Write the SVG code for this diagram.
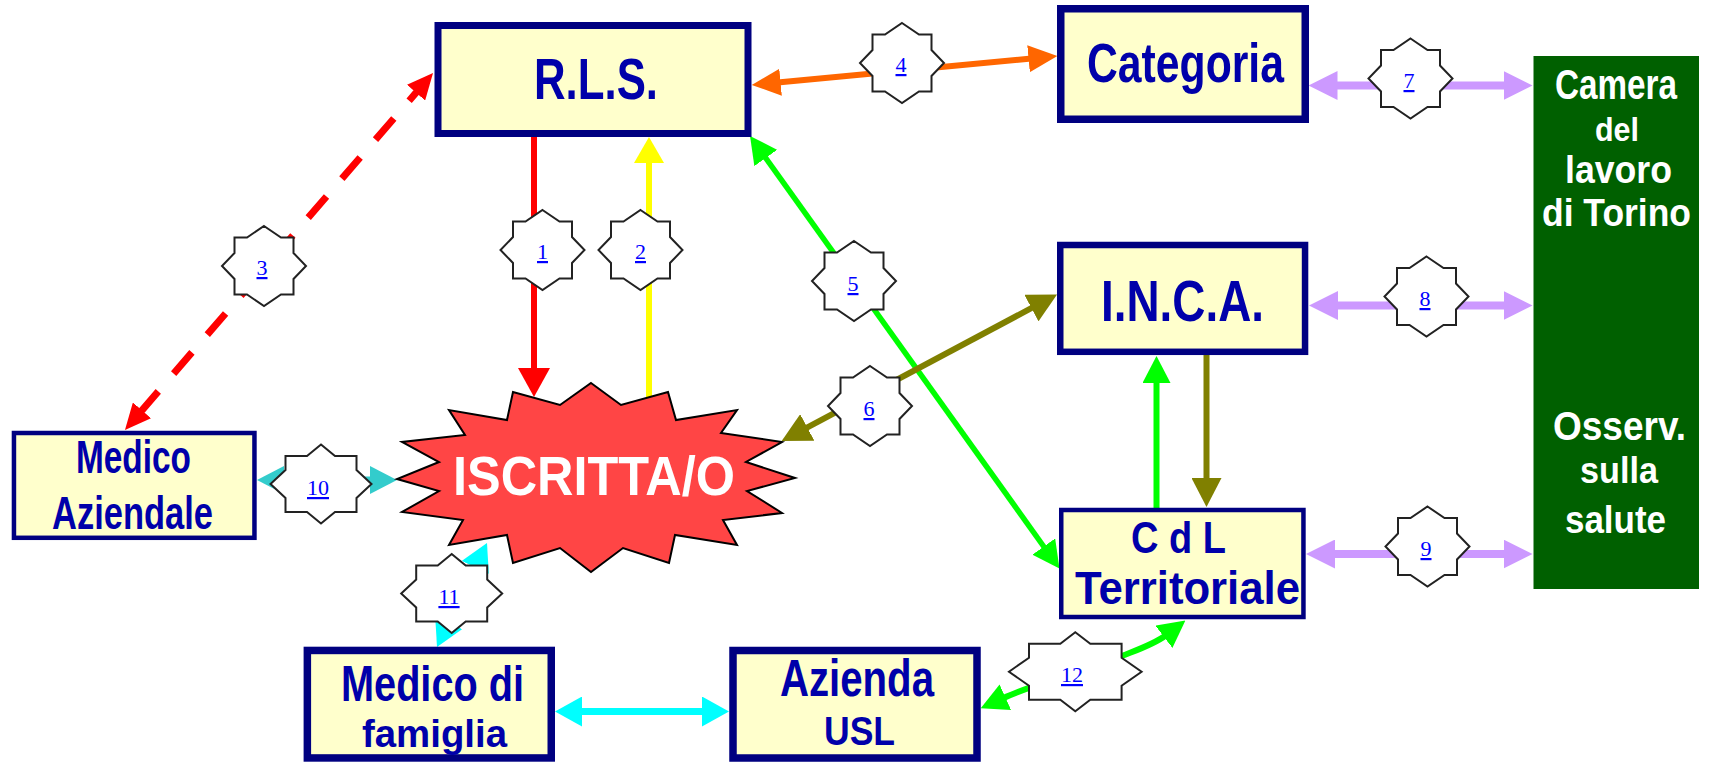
<svg xmlns="http://www.w3.org/2000/svg" xmlns:xlink="http://www.w3.org/1999/xlink" width="1709" height="764" viewBox="0 0 1709 764">
<style>
.box{fill:#FFFFCC;stroke:#000080}
.t{font-family:"Liberation Sans",Arial,sans-serif;font-weight:bold;fill:#0000AA}
.w{fill:#FFFFFF}
.ln{fill:none}
.badge{fill:#FFFFFF;stroke:#222222;stroke-width:2;stroke-linejoin:miter}
.num{font-family:"Liberation Serif","Times New Roman",serif;font-size:22px;fill:#0000FF;text-decoration:underline;text-anchor:middle}
</style>
<defs>
<marker id="mRed" markerUnits="userSpaceOnUse" viewBox="0 0 29 32" markerWidth="29" markerHeight="32" refX="3" refY="16" orient="auto-start-reverse"><path d="M0,0 L29,16 L0,32 Z" fill="#FF0000"/></marker>
<marker id="mYel" markerUnits="userSpaceOnUse" viewBox="0 0 26 30" markerWidth="26" markerHeight="30" refX="3" refY="15" orient="auto-start-reverse"><path d="M0,0 L26,15 L0,30 Z" fill="#FFFF00"/></marker>
<marker id="mRedD" markerUnits="userSpaceOnUse" viewBox="0 0 26 24" markerWidth="26" markerHeight="24" refX="3" refY="12" orient="auto-start-reverse"><path d="M0,0 L26,12 L0,24 Z" fill="#FF0000"/></marker>
<marker id="mOr" markerUnits="userSpaceOnUse" viewBox="0 0 29 27" markerWidth="29" markerHeight="27" refX="3" refY="13.5" orient="auto-start-reverse"><path d="M0,0 L29,13.5 L0,27 Z" fill="#FF6600"/></marker>
<marker id="mGr" markerUnits="userSpaceOnUse" viewBox="0 0 27 28" markerWidth="27" markerHeight="28" refX="3" refY="14" orient="auto-start-reverse"><path d="M0,0 L27,14 L0,28 Z" fill="#00FF00"/></marker>
<marker id="mOl" markerUnits="userSpaceOnUse" viewBox="0 0 29 30" markerWidth="29" markerHeight="30" refX="3" refY="15" orient="auto-start-reverse"><path d="M0,0 L29,15 L0,30 Z" fill="#808000"/></marker>
<marker id="mLil" markerUnits="userSpaceOnUse" viewBox="0 0 29 29" markerWidth="29" markerHeight="29" refX="3" refY="14.5" orient="auto-start-reverse"><path d="M0,0 L29,14.5 L0,29 Z" fill="#CC99FF"/></marker>
<marker id="mTeal" markerUnits="userSpaceOnUse" viewBox="0 0 27 28" markerWidth="27" markerHeight="28" refX="3" refY="14" orient="auto-start-reverse"><path d="M0,0 L27,14 L0,28 Z" fill="#33CCCC"/></marker>
<marker id="mCy" markerUnits="userSpaceOnUse" viewBox="0 0 27 30" markerWidth="27" markerHeight="30" refX="3" refY="15" orient="auto-start-reverse"><path d="M0,0 L27,15 L0,30 Z" fill="#00FFFF"/></marker>
<path id="starS" d="M0,-40 L17,-28.5 L29.5,-28.5 L29.5,-13 L42,0 L29.5,13 L29.5,28.5 L17,28.5 L0,40 L-17,28.5 L-29.5,28.5 L-29.5,13 L-42,0 L-29.5,-13 L-29.5,-28.5 L-17,-28.5 Z"/>
<path id="starW" d="M0,-39.5 L14,-28 L35.5,-28 L35.5,-14 L50.5,0 L35.5,14 L35.5,28 L14,28 L0,39.5 L-14,28 L-35.5,28 L-35.5,14 L-50.5,0 L-35.5,-14 L-35.5,-28 L-14,-28 Z"/>
<path id="starXW" d="M0,-39.5 L15,-28 L46.3,-28 L46.3,-14 L66.3,0 L46.3,14 L46.3,28 L15,28 L0,39.5 L-15,28 L-46.3,28 L-46.3,14 L-66.3,0 L-46.3,-14 L-46.3,-28 L-15,-28 Z"/>
</defs>
<rect width="1709" height="764" fill="#FFFFFF"/>
<g id="connectors" class="ln">
<path id="c1" d="M534,137 V371" stroke="#FF0000" stroke-width="6" marker-end="url(#mRed)"/>
<path id="c2" d="M649,402 V160" stroke="#FFFF00" stroke-width="6" marker-end="url(#mYel)"/>
<path id="c3" d="M140,412.6 L418,90.4" stroke="#FF0000" stroke-width="7" stroke-dasharray="28 23.5" marker-start="url(#mRedD)" marker-end="url(#mRedD)"/>
<path id="c4" d="M777.6,82.5 L1031.5,58.5" stroke="#FF6600" stroke-width="6" marker-start="url(#mOr)" marker-end="url(#mOr)"/>
<path id="c5" d="M764,155.5 L1045.5,549" stroke="#00FF00" stroke-width="5.5" marker-start="url(#mGr)" marker-end="url(#mGr)"/>
<path id="c6" d="M804.6,428.8 L1034.1,306.7" stroke="#808000" stroke-width="6" marker-start="url(#mOl)" marker-end="url(#mOl)"/>
<path id="c7" d="M1334.5,85.5 H1506.5" stroke="#CC99FF" stroke-width="8" marker-start="url(#mLil)" marker-end="url(#mLil)"/>
<path id="c8" d="M1335,305.5 H1506.5" stroke="#CC99FF" stroke-width="8" marker-start="url(#mLil)" marker-end="url(#mLil)"/>
<path id="c9" d="M1332,554 H1506.5" stroke="#CC99FF" stroke-width="8" marker-start="url(#mLil)" marker-end="url(#mLil)"/>
<path id="c10" d="M281,480 H373" stroke="#33CCCC" stroke-width="7" marker-start="url(#mTeal)" marker-end="url(#mTeal)"/>
<path id="c11" d="M447.4,625.4 L476.6,564.6" stroke="#00FFFF" stroke-width="4" marker-start="url(#mCy)" marker-end="url(#mCy)"/>
<path id="c12" d="M1002.6,698.4 C1050,677 1140,655 1166.3,635" stroke="#00FF00" stroke-width="6" marker-start="url(#mGr)" marker-end="url(#mGr)"/>
<path id="c13" d="M579,711.5 H705" stroke="#00FFFF" stroke-width="7" marker-start="url(#mCy)" marker-end="url(#mCy)"/>
<path id="c14" d="M1156.5,508 V380" stroke="#00FF00" stroke-width="6" marker-end="url(#mGr)"/>
<path id="c15" d="M1206.5,352 V481" stroke="#808000" stroke-width="6" marker-end="url(#mOl)"/>
</g>
<g id="node-rls">
<rect class="box" x="438" y="25.5" width="310" height="108" stroke-width="7"/>
<text class="t" x="534" y="99" font-size="57" textLength="124" lengthAdjust="spacingAndGlyphs">R.L.S.</text>
</g>
<g id="node-categoria">
<rect class="box" x="1060.75" y="8.75" width="244.5" height="110.5" stroke-width="7.5"/>
<text class="t" x="1087" y="82" font-size="56" textLength="197" lengthAdjust="spacingAndGlyphs">Categoria</text>
</g>
<g id="node-inca">
<rect class="box" x="1060.25" y="245" width="244.8" height="106.8" stroke-width="6.5"/>
<text class="t" x="1101" y="321" font-size="58" textLength="163" lengthAdjust="spacingAndGlyphs">I.N.C.A.</text>
</g>
<g id="node-cdl">
<rect class="box" x="1061.25" y="510" width="242.2" height="107" stroke-width="4.5"/>
<text class="t" x="1131" y="553" font-size="44" textLength="95" lengthAdjust="spacingAndGlyphs">C d L</text>
<text class="t" x="1075" y="604" font-size="46" textLength="225" lengthAdjust="spacingAndGlyphs">Territoriale</text>
</g>
<g id="node-medico-aziendale">
<rect class="box" x="13.95" y="433" width="240.5" height="104.8" stroke-width="4.5"/>
<text class="t" x="76" y="473" font-size="46" textLength="115" lengthAdjust="spacingAndGlyphs">Medico</text>
<text class="t" x="52" y="529" font-size="47" textLength="161" lengthAdjust="spacingAndGlyphs">Aziendale</text>
</g>
<g id="node-medico-famiglia">
<rect class="box" x="307.35" y="650.45" width="243.9" height="107.5" stroke-width="7.5"/>
<text class="t" x="341" y="701" font-size="50" textLength="183" lengthAdjust="spacingAndGlyphs">Medico di</text>
<text class="t" x="362" y="747" font-size="39" textLength="145" lengthAdjust="spacingAndGlyphs">famiglia</text>
</g>
<g id="node-azienda-usl">
<rect class="box" x="733" y="650.5" width="244" height="107.5" stroke-width="7.5"/>
<text class="t" x="780" y="696" font-size="52" textLength="154" lengthAdjust="spacingAndGlyphs">Azienda</text>
<text class="t" x="824" y="745" font-size="41" textLength="71" lengthAdjust="spacingAndGlyphs">USL</text>
</g>
<g id="node-camera-lavoro">
<rect x="1533.5" y="56" width="165.5" height="533" fill="#006000"/>
<text class="t w" x="1555" y="99" font-size="42" textLength="122" lengthAdjust="spacingAndGlyphs">Camera</text>
<text class="t w" x="1595" y="141" font-size="34" textLength="44" lengthAdjust="spacingAndGlyphs">del</text>
<text class="t w" x="1565" y="183" font-size="38" textLength="107" lengthAdjust="spacingAndGlyphs">lavoro</text>
<text class="t w" x="1542" y="226" font-size="38" textLength="149" lengthAdjust="spacingAndGlyphs">di Torino</text>
<text class="t w" x="1553" y="440" font-size="40" textLength="133" lengthAdjust="spacingAndGlyphs">Osserv.</text>
<text class="t w" x="1580" y="483" font-size="36" textLength="78" lengthAdjust="spacingAndGlyphs">sulla</text>
<text class="t w" x="1565" y="533" font-size="38" textLength="101" lengthAdjust="spacingAndGlyphs">salute</text>
</g>
<g id="node-iscritta">
<polygon points="591,383 621,405 668,392 676,420 737,410 721,433 782,442 746,462 795,478 747,491 782,513 723,520 737,545 675,535 669,563 623,548 591,572 560,548 513,563 507,535 449,545 463,520 402,512 439,491 397,479 439,462 402,442 465,435 449,410 507,420 513,392 560,405" fill="#FF4545" stroke="#000000" stroke-width="2" stroke-linejoin="miter"/>
<text class="t w" x="453" y="495" font-size="56" textLength="282" lengthAdjust="spacingAndGlyphs">ISCRITTA/O</text>
</g>
<g id="connector-labels">
<g id="badge-1"><use href="#starS" class="badge" transform="translate(542.5,250)"/><text class="num" x="542.5" y="259">1</text></g>
<g id="badge-2"><use href="#starS" class="badge" transform="translate(640.5,250)"/><text class="num" x="640.5" y="259">2</text></g>
<g id="badge-3"><use href="#starS" class="badge" transform="translate(264,266)"/><text class="num" x="262" y="275">3</text></g>
<g id="badge-4"><use href="#starS" class="badge" transform="translate(902,63)"/><text class="num" x="901" y="72">4</text></g>
<g id="badge-5"><use href="#starS" class="badge" transform="translate(854,281)"/><text class="num" x="853" y="291">5</text></g>
<g id="badge-6"><use href="#starS" class="badge" transform="translate(870,406)"/><text class="num" x="869" y="416">6</text></g>
<g id="badge-7"><use href="#starS" class="badge" transform="translate(1410.5,78.5)"/><text class="num" x="1409" y="88">7</text></g>
<g id="badge-8"><use href="#starS" class="badge" transform="translate(1426.5,296.5)"/><text class="num" x="1425" y="306">8</text></g>
<g id="badge-9"><use href="#starS" class="badge" transform="translate(1427.5,546.5)"/><text class="num" x="1426" y="556">9</text></g>
<g id="badge-10"><use href="#starW" class="badge" transform="translate(321,484)"/><text class="num" x="318" y="495">10</text></g>
<g id="badge-11"><use href="#starW" class="badge" transform="translate(451.7,593.5)"/><text class="num" x="449" y="604">11</text></g>
<g id="badge-12"><use href="#starXW" class="badge" transform="translate(1075.3,671.7)"/><text class="num" x="1072" y="682">12</text></g>
</g>
</svg>
